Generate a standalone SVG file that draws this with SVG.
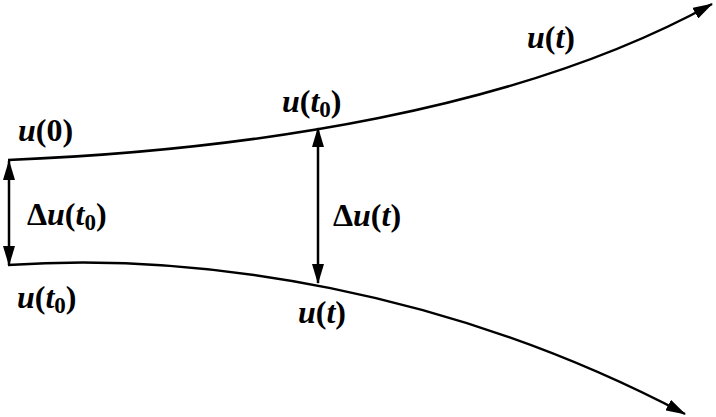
<svg xmlns="http://www.w3.org/2000/svg" width="716" height="417" viewBox="0 0 716 417">
<defs>
<marker id="ah" viewBox="0 0 20 12" refX="19" refY="6" markerWidth="20" markerHeight="12" markerUnits="userSpaceOnUse" orient="auto-start-reverse">
<path d="M0,0 L20,6 L0,12 Z" fill="#000"/>
</marker>
</defs>
<g id="connectors" fill="none" stroke="#000" stroke-width="2.5">
<path id="upper" d="M8,160 C250,150 520,110 712,4" marker-end="url(#ah)"/>
<path id="lower" d="M8,265 C200,252 450,290 685,414" marker-end="url(#ah)"/>
<line id="d0" x1="9" y1="161" x2="9" y2="265" marker-start="url(#ah)" marker-end="url(#ah)"/>
<line id="dt" x1="318" y1="128" x2="318" y2="283" marker-start="url(#ah)" marker-end="url(#ah)"/>
</g>
<g id="label-u0"><text x="18" y="141" font-family="Times New Roman" font-size="32" font-weight="bold"><tspan font-style="italic">u</tspan>(0)</text></g>
<g id="label-ut0-top"><text x="282" y="112" font-family="Times New Roman" font-size="32" font-weight="bold"><tspan font-style="italic">u</tspan>(<tspan font-style="italic">t</tspan><tspan font-size="23" dy="5">0</tspan><tspan dy="-5">)</tspan></text></g>
<g id="label-ut-top"><text x="527" y="48" font-family="Times New Roman" font-size="32" font-weight="bold"><tspan font-style="italic">u</tspan>(<tspan font-style="italic">t</tspan>)</text></g>
<g id="label-du0"><text x="27" y="225" font-family="Times New Roman" font-size="32" font-weight="bold">Δ<tspan font-style="italic">u</tspan>(<tspan font-style="italic">t</tspan><tspan font-size="23" dy="5">0</tspan><tspan dy="-5">)</tspan></text></g>
<g id="label-dut"><text x="333" y="226" font-family="Times New Roman" font-size="32" font-weight="bold">Δ<tspan font-style="italic">u</tspan>(<tspan font-style="italic">t</tspan>)</text></g>
<g id="label-ut0-bot"><text x="17" y="308" font-family="Times New Roman" font-size="32" font-weight="bold"><tspan font-style="italic">u</tspan>(<tspan font-style="italic">t</tspan><tspan font-size="23" dy="5">0</tspan><tspan dy="-5">)</tspan></text></g>
<g id="label-ut-bot"><text x="298" y="323" font-family="Times New Roman" font-size="32" font-weight="bold"><tspan font-style="italic">u</tspan>(<tspan font-style="italic">t</tspan>)</text></g>
</svg>
